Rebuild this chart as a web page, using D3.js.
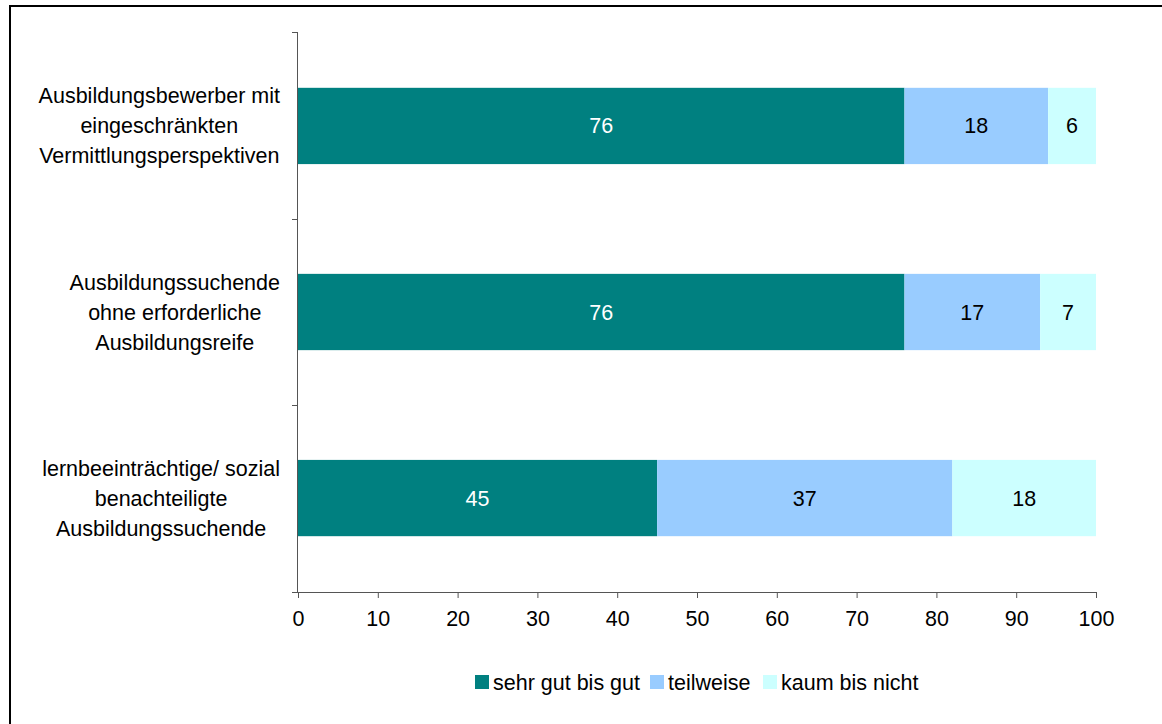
<!DOCTYPE html>
<html><head><meta charset="utf-8">
<script src="https://cdn.jsdelivr.net/npm/d3@7"></script>
<style>body{margin:0;background:#fff}svg{display:block;font-family:"Liberation Sans",Arial,sans-serif}</style>
</head><body>
<svg id="c" width="1162" height="724"></svg>
<script>
const categories = [
  ["Ausbildungsbewerber mit","eingeschränkten","Vermittlungsperspektiven"],
  ["Ausbildungssuchende","ohne erforderliche","Ausbildungsreife"],
  ["lernbeeinträchtige/ sozial","benachteiligte","Ausbildungssuchende"]
];
const seriesNames = ["sehr gut bis gut","teilweise","kaum bis nicht"];
const sehrGut = [76, 76, 45];
const teilweise = [18, 17, 37];
const kaum = [6, 7, 18];
const xTicks = [0,10,20,30,40,50,60,70,80,90,100];
const colors = ["#008080","#99CCFF","#CCFFFF"];
const labelColors = ["#ffffff","#000000","#000000"];
const FS = 21.5;

const svg = d3.select("#c");
svg.append("rect").attr("x",10).attr("y",6).attr("width",1200).attr("height",800)
  .attr("fill","none").attr("stroke","#000").attr("stroke-width",2);

const L=298, R=1096, T=32, B=592;
const x = d3.scaleLinear().domain([0,100]).range([L,R]);
const y = d3.scaleBand().domain(d3.range(categories.length)).range([T,B]).paddingInner(0.59).paddingOuter(0.3);

const data = categories.map((c,i)=>({i, vals:[sehrGut[i],teilweise[i],kaum[i]]}));
const stack = d3.stack().keys([0,1,2]).value((d,k)=>d.vals[k]);
const layers = stack(data);

layers.forEach((layer,k)=>{
  const g = svg.append("g");
  g.selectAll("rect").data(layer).join("rect")
    .attr("x",d=>x(d[0])).attr("width",d=>x(d[1])-x(d[0]))
    .attr("y",d=>y(d.data.i)).attr("height",y.bandwidth())
    .attr("fill",colors[k]);
  g.selectAll("text").data(layer).join("text")
    .attr("x",d=>(x(d[0])+x(d[1]))/2).attr("y",d=>y(d.data.i)+y.bandwidth()/2)
    .attr("dy","0.35em").attr("text-anchor","middle").attr("font-size",FS)
    .attr("fill",labelColors[k]).text(d=>d.data.vals[k]);
});

// x axis
const xa = svg.append("g").attr("transform",`translate(0,${B})`)
  .call(d3.axisBottom(x).tickValues(xTicks).tickSize(6).tickSizeOuter(0).tickPadding(13));
xa.select(".domain").attr("stroke","#555").attr("d",`M${L-6},0.5H${R}`);
xa.selectAll(".tick line").attr("stroke","#555");
xa.selectAll("text").attr("font-size",FS).attr("fill","#000").attr("font-family","Liberation Sans, Arial, sans-serif");

// y axis with ticks at band boundaries
const bounds = d3.range(categories.length+1).map(i=>T+i*(B-T)/categories.length);
svg.append("line").attr("x1",L-0.5).attr("x2",L-0.5).attr("y1",T).attr("y2",B).attr("stroke","#555");
svg.selectAll(".ytick").data(bounds).join("line").attr("class","ytick")
  .attr("x1",L-6).attr("x2",L).attr("y1",d=>Math.round(d)+0.5).attr("y2",d=>Math.round(d)+0.5).attr("stroke","#555");

// category labels
const rightEdge = 280, lh = 30;
categories.forEach((lines,i)=>{
  const cy = y(i)+y.bandwidth()/2;
  const g = svg.append("g");
  const texts = g.selectAll("text").data(lines).join("text")
    .attr("font-size",FS).attr("fill","#000").attr("text-anchor","middle")
    .attr("y",(d,j)=>cy+(j-(lines.length-1)/2)*lh).attr("dy","0.35em").text(d=>d);
  let maxW=0; texts.each(function(){maxW=Math.max(maxW,this.getComputedTextLength());});
  texts.attr("x",rightEdge-maxW/2);
});

// legend
const legX = [475, 650, 763];
const leg = svg.append("g");
seriesNames.forEach((n,k)=>{
  leg.append("rect").attr("x",legX[k]).attr("y",675).attr("width",14).attr("height",14).attr("fill",colors[k]);
  leg.append("text").attr("x",legX[k]+18).attr("y",682).attr("dy","0.35em").attr("font-size",FS).text(n);
});
</script>
</body></html>
